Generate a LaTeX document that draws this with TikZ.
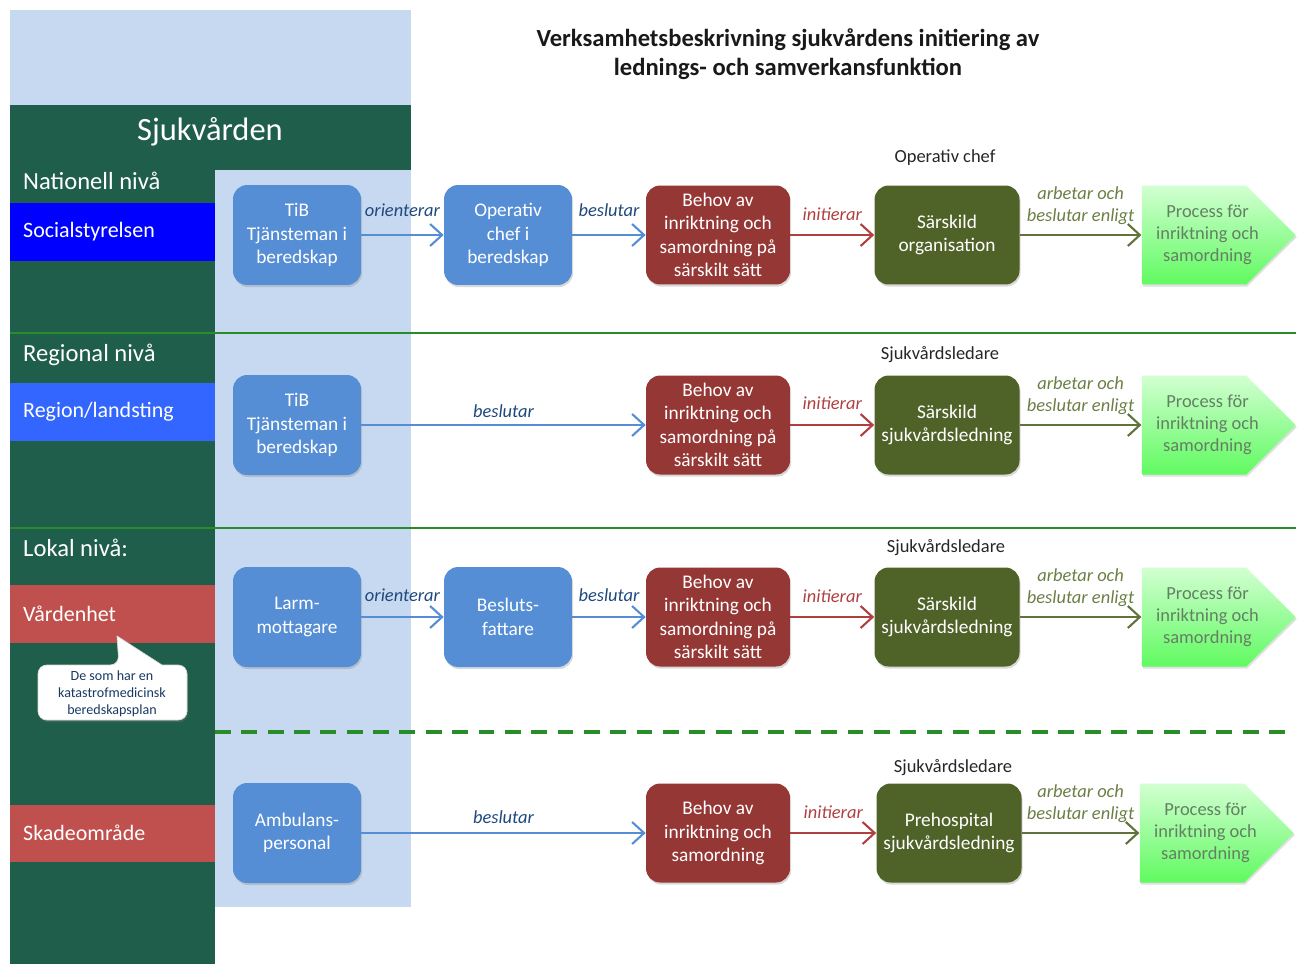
\documentclass[tikz,border=0pt]{standalone}
\usepackage{fontspec}
\setmainfont{Carlito}
\usetikzlibrary{arrows.meta,shapes.symbols,shadows}

\definecolor{skyblue}{RGB}{198,217,241}
\definecolor{panelgreen}{RGB}{31,94,74}
\definecolor{sepgreen}{RGB}{40,140,40}
\definecolor{boxblue}{RGB}{85,142,213}
\definecolor{boxred}{RGB}{149,55,53}
\definecolor{boxolive}{RGB}{79,98,40}
\definecolor{socblue}{RGB}{0,0,255}
\definecolor{regblue}{RGB}{51,102,255}
\definecolor{unitred}{RGB}{192,80,77}
\definecolor{lblblue}{RGB}{31,73,125}
\definecolor{lblred}{RGB}{176,64,64}
\definecolor{lblolive}{RGB}{107,127,69}
\definecolor{proctext}{RGB}{100,128,100}

\begin{document}
\begin{tikzpicture}[x=0.02cm, y=-0.02cm,
  actbox/.style={rectangle, rounded corners=8pt, text=white, align=center,
    font=\fontsize{11}{13.4}\selectfont,
    drop shadow={opacity=0.3, shadow xshift=0.6pt, shadow yshift=-1.2pt}},
  blueact/.style={actbox, fill=boxblue, minimum width=2.56cm, minimum height=2cm},
  redact/.style={actbox, fill=boxred, minimum width=2.88cm, minimum height=1.98cm},
  oliveact/.style={actbox, fill=boxolive, minimum width=2.9cm, minimum height=1.98cm},
  procbox/.style={signal, signal to=east, signal pointer angle=90, inner sep=0pt,
    minimum width=3.08cm, minimum height=1.98cm,
    top color={rgb,255:red,210;green,255;blue,210}, bottom color={rgb,255:red,96;green,250;blue,96},
    label={[xshift=0.27cm, align=center, text=proctext, font=\fontsize{10.5}{12.6}\selectfont]center:{Process för\\inriktning och\\samordning}},
    drop shadow={opacity=0.25, shadow xshift=0.6pt, shadow yshift=-1.2pt}},
  lvltext/.style={anchor=west, text=white, font=\fontsize{14}{16}\selectfont},
  unittext/.style={anchor=west, text=white, font=\fontsize{12.5}{15}\selectfont},
  headtext/.style={font=\fontsize{10.5}{12.6}\selectfont, text=black!85},
  lbl/.style={anchor=south, align=center, font=\fontsize{10.5}{12.2}\selectfont\itshape},
  bluearr/.style={draw=boxblue, line width=1.2pt, -{Straight Barb[length=2.4mm,width=4.4mm]}},
  redarr/.style={draw=lblred, line width=1.2pt, -{Straight Barb[length=2.4mm,width=4.4mm]}},
  olivearr/.style={draw=boxolive!90!white, line width=1.2pt, -{Straight Barb[length=2.4mm,width=4.4mm]}}]

\useasboundingbox (0,0) rectangle (1301,964);

% panel on the left
\fill[skyblue] (10,10) rectangle (411,105);
\fill[panelgreen] (10,105) rectangle (411,170);
\fill[panelgreen] (10,170) rectangle (215,964);
\fill[skyblue] (215,170) rectangle (411,907);
\fill[socblue] (10,203) rectangle (215,261);
\fill[regblue] (10,383) rectangle (215,441);
\fill[unitred] (10,585) rectangle (215,643);
\fill[unitred] (10,805) rectangle (215,862);

\node[text=white, font=\fontsize{18.5}{20}\selectfont] (vard) at (210,132) {Sjukvården};
\node[lvltext] (nat) at (17,181) {Nationell nivå};
\node[unittext] (soc) at (17,232) {Socialstyrelsen};
\node[lvltext] (reg) at (17,355) {Regional nivå};
\node[unittext] (land) at (17,412) {Region/landsting};
\node[lvltext] (lok) at (17,548) {Lokal nivå:};
\node[unittext] (enhet) at (17,614) {Vårdenhet};
\node[unittext] (skada) at (17,833) {Skadeområde};

% callout
\path[fill=white, draw=black!15, rounded corners=5pt,
  drop shadow={opacity=0.3, shadow xshift=0.6pt, shadow yshift=-1.2pt}]
  (38,665) -- (119,665) [sharp corners]-- (117,636) -- (162,665) [rounded corners=5pt]-- (187,665)
  -- (187,720) -- (38,720) -- cycle;
\node[align=center, text=lblblue!80!black, font=\fontsize{8}{9.7}\selectfont] (note) at (112,694)
  {De som har en\\katastrofmedicinsk\\beredskapsplan};

% separators
\draw[sepgreen, line width=1.6pt] (10,333) -- (1296,333);
\draw[sepgreen, line width=1.6pt] (10,528) -- (1296,528);
\draw[sepgreen, line width=1.8pt, dash pattern=on 9pt off 6pt] (215,732) -- (1290,732);

% title
\node[align=center, font=\fontsize{14}{16.5}\selectfont\bfseries, text=black!90] (title) at (788,54)
  {Verksamhetsbeskrivning sjukvårdens initiering av\\lednings- och samverkansfunktion};

% nationell
\node[blueact] (tib1) at (297,235) {TiB\\Tjänsteman i\\beredskap};
\node[blueact] (op1) at (508,235) {Operativ\\chef i\\beredskap};
\node[redact] (beh1) at (718,235) {Behov av\\inriktning och\\samordning på\\särskilt sätt};
\node[oliveact] (org1) at (947,235) {Särskild\\organisation};
\node[procbox] (proc1) at (1194,235) {};
\node[headtext] (chef1) at (945,158) {Operativ chef};

\draw[bluearr] (tib1) -- node[lbl, yshift=6.5pt, text=lblblue] {orienterar} (op1);
\draw[bluearr] (op1) -- node[lbl, yshift=6.5pt, text=lblblue] {beslutar} (beh1);
\draw[redarr] (beh1) -- node[lbl, yshift=4pt, text=lblred] {initierar} (org1);
\draw[olivearr] (org1) -- node[lbl, yshift=2pt, text=lblolive] {arbetar och\\beslutar enligt} (proc1);

% regional
\node[blueact] (tib2) at (297,425) {TiB\\Tjänsteman i\\beredskap};
\node[redact] (beh2) at (718,425) {Behov av\\inriktning och\\samordning på\\särskilt sätt};
\node[oliveact] (org2) at (947,425) {Särskild\\sjukvårdsledning};
\node[procbox] (proc2) at (1194,425) {};
\node[headtext] (chef2) at (940,355) {Sjukvårdsledare};

\draw[bluearr] (tib2) -- node[lbl, yshift=0.5pt, text=lblblue] {beslutar} (beh2);
\draw[redarr] (beh2) -- node[lbl, yshift=5pt, text=lblred] {initierar} (org2);
\draw[olivearr] (org2) -- node[lbl, yshift=2pt, text=lblolive] {arbetar och\\beslutar enligt} (proc2);

% lokal
\node[blueact] (larm) at (297,617) {Larm-\\mottagare};
\node[blueact] (fatt) at (508,617) {Besluts-\\fattare};
\node[redact] (beh3) at (718,617) {Behov av\\inriktning och\\samordning på\\särskilt sätt};
\node[oliveact] (org3) at (947,617) {Särskild\\sjukvårdsledning};
\node[procbox] (proc3) at (1194,617) {};
\node[headtext] (chef3) at (946,548) {Sjukvårdsledare};

\draw[bluearr] (larm) -- node[lbl, yshift=5pt, text=lblblue] {orienterar} (fatt);
\draw[bluearr] (fatt) -- node[lbl, yshift=5pt, text=lblblue] {beslutar} (beh3);
\draw[redarr] (beh3) -- node[lbl, yshift=4pt, text=lblred] {initierar} (org3);
\draw[olivearr] (org3) -- node[lbl, yshift=2pt, text=lblolive] {arbetar och\\beslutar enligt} (proc3);

% skadeomrade
\node[blueact] (amb) at (297,833) {Ambulans-\\personal};
\node[redact] (beh4) at (718,833) {Behov av\\inriktning och\\samordning};
\node[oliveact] (org4) at (949,833) {Prehospital\\sjukvårdsledning};
\node[procbox] (proc4) at (1192,833) {};
\node[headtext] (chef4) at (953,768) {Sjukvårdsledare};

\draw[bluearr] (amb) -- node[lbl, yshift=1.5pt, text=lblblue] {beslutar} (beh4);
\draw[redarr] (beh4) -- node[lbl, yshift=4pt, text=lblred] {initierar} (org4);
\draw[olivearr] (org4) -- node[lbl, yshift=2pt, text=lblolive] {arbetar och\\beslutar enligt} (proc4);

\end{tikzpicture}
\end{document}
